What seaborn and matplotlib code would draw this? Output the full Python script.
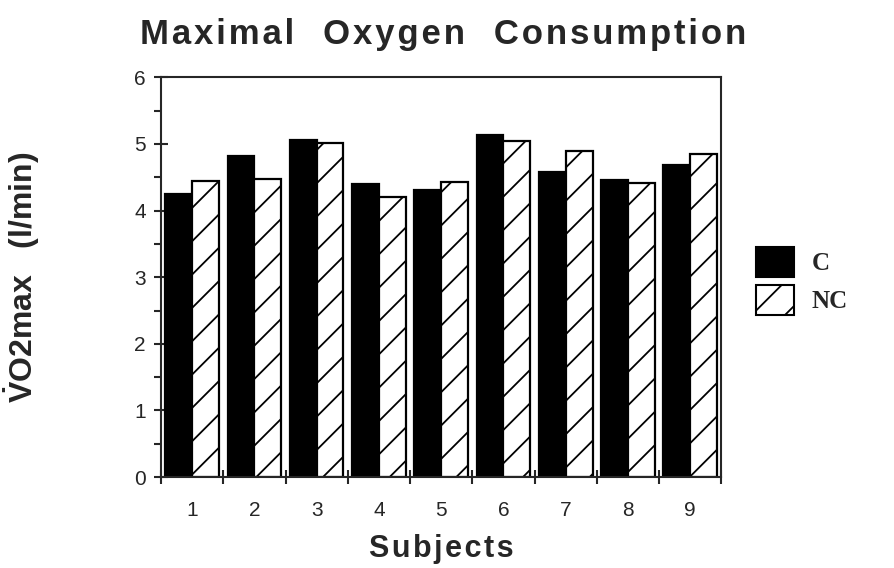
import numpy as np
import pandas as pd
import matplotlib
matplotlib.use("Agg")
import matplotlib.pyplot as plt
import seaborn as sns
from matplotlib.patches import Patch
from matplotlib.ticker import MultipleLocator

# VO2max per subject, two conditions
subjects = ["1", "2", "3", "4", "5", "6", "7", "8", "9"]
vo2_c = [4.25, 4.82, 5.06, 4.40, 4.31, 5.13, 4.58, 4.46, 4.69]
vo2_nc = [4.44, 4.47, 5.02, 4.20, 4.43, 5.05, 4.89, 4.42, 4.85]
conditions = ["C", "NC"]

df = pd.DataFrame({
    "subject": subjects * 2,
    "vo2": vo2_c + vo2_nc,
    "cond": ["C"] * len(subjects) + ["NC"] * len(subjects),
})


def spaced(s):
    # poor man's letter spacing
    return "\u200a".join(s)


sns.set_style("ticks")
plt.rcParams["font.family"] = ["Liberation Sans", "DejaVu Sans"]
plt.rcParams["mathtext.fontset"] = "custom"
plt.rcParams["mathtext.rm"] = "Liberation Sans"
plt.rcParams["mathtext.bf"] = "Liberation Sans:bold"
plt.rcParams["hatch.linewidth"] = 1.3

fig = plt.figure(figsize=(8.95, 5.68), dpi=100)
ax = fig.add_axes([0.180, 0.160, 0.626, 0.704])

sns.barplot(data=df, x="subject", y="vo2", hue="cond", order=subjects,
            hue_order=conditions, palette=["black", "white"],
            width=0.86, gap=0, edgecolor="black", linewidth=1.6,
            legend=False, ax=ax)

# hatch the NC bars
for p in ax.patches[len(subjects):]:
    p.set_hatch("/")

ax.set_ylim(0, 6)
ax.set_xlim(-0.5, len(subjects) - 0.5)
ax.yaxis.set_major_locator(MultipleLocator(1))
ax.yaxis.set_minor_locator(MultipleLocator(0.5))
ax.tick_params(axis="y", which="major", direction="inout", length=10, width=1.5,
               labelsize=15, pad=6)
ax.tick_params(axis="y", which="minor", direction="out", length=5, width=1.5)

# ticks between groups, labels under the groups
ax.set_xticks(np.arange(-0.5, len(subjects), 1.0), minor=True)
ax.tick_params(axis="x", which="minor", direction="inout", length=10, width=1.5)
ax.tick_params(axis="x", which="major", length=0, labelsize=15, pad=17)

for s in ax.spines.values():
    s.set_linewidth(1.5)

ax.set_xlabel(spaced("Subjects"), fontsize=22, fontweight="bold", labelpad=10)
ax.set_ylabel(r"$\mathbf{\dot{V}}$O2max   (l/min)", fontsize=23,
              fontweight="bold", labelpad=66)

fig.text(0.495, 0.94, "   ".join(spaced(w) for w in ["Maximal", "Oxygen", "Consumption"]),
         ha="center", va="center", fontsize=25, fontweight="bold")

handles = [Patch(facecolor="black", edgecolor="black", linewidth=1.5),
           Patch(facecolor="white", edgecolor="black", linewidth=1.5, hatch="/")]
fig.legend(handles, conditions, loc="center left", bbox_to_anchor=(0.82, 0.505),
           frameon=False, handlelength=1.5, handleheight=1.5,
           prop={"family": "Liberation Serif", "size": 18, "weight": "bold"},
           labelspacing=0.3, handletextpad=0.7)

fig.savefig("out.png", dpi=100)
